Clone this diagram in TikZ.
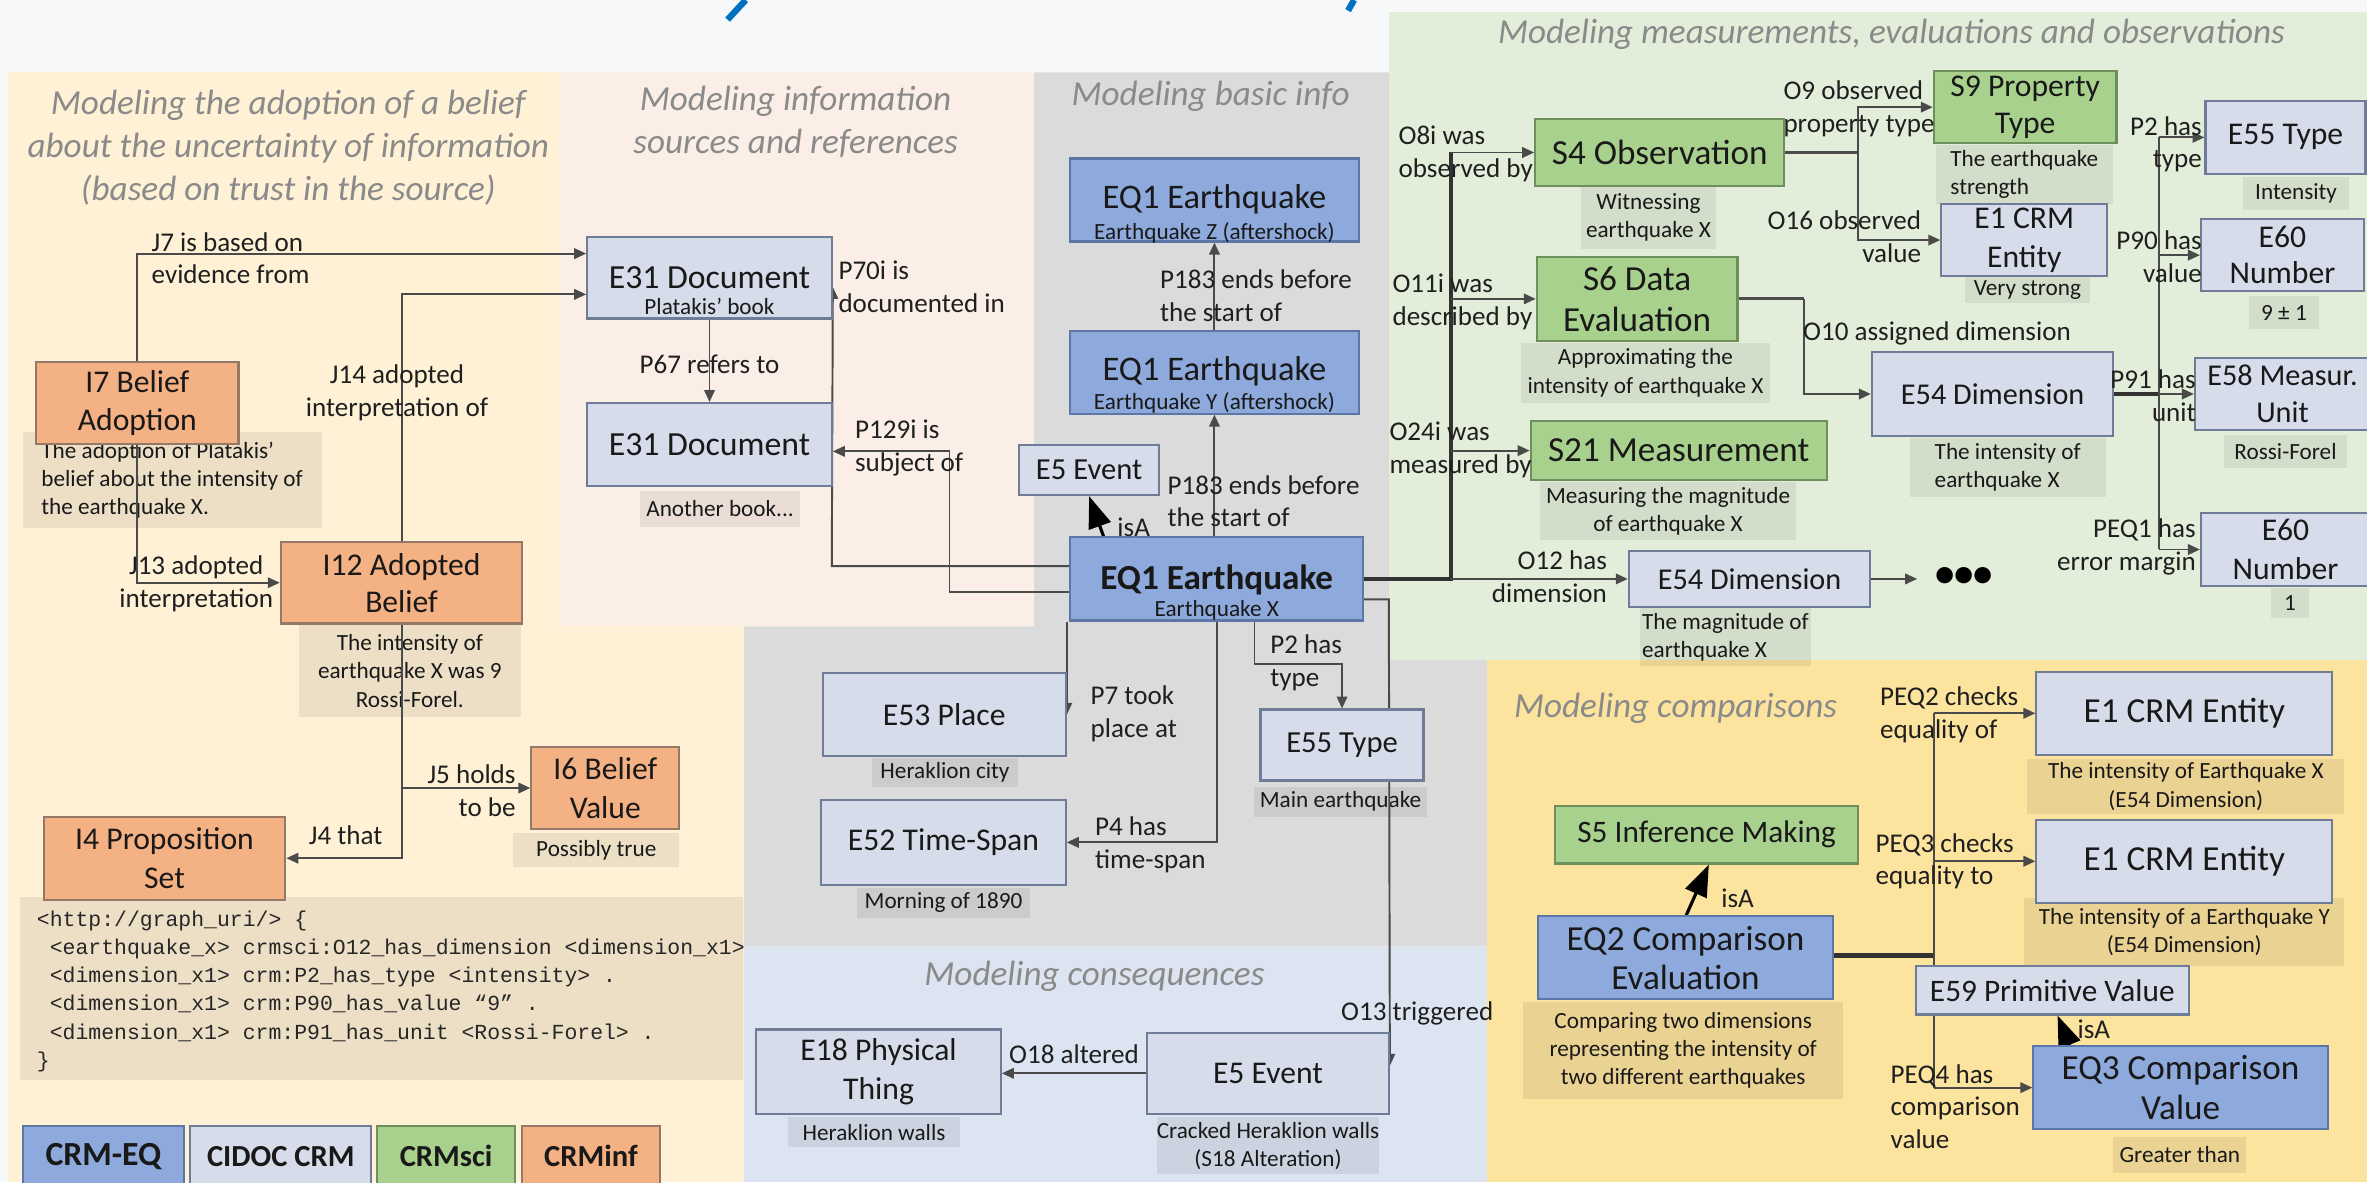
\documentclass[tikz,border=0pt]{standalone}
\usepackage{fontspec}
\setmainfont{Carlito}
\setmonofont{Liberation Mono}
\usetikzlibrary{arrows.meta}
\pgfdeclarelayer{bg}
\pgfdeclarelayer{lines}
\pgfsetlayers{bg,lines,main}
\def\pxu{0.015096cm}
\newcommand\fs[2]{\fontsize{#1}{#2}\selectfont}
\definecolor{pagebg}{HTML}{F7F8FA}
\definecolor{creambg}{HTML}{FEF1D6}
\definecolor{peachbg}{HTML}{FBEEE6}
\definecolor{graybg}{HTML}{DBDBDB}
\definecolor{consbg}{HTML}{DCE4F2}
\definecolor{greenbg}{HTML}{E3EEDA}
\definecolor{compbg}{HTML}{FCE49E}
\definecolor{cidocF}{HTML}{D6DCE9}
\definecolor{cidocD}{HTML}{6F7C98}
\definecolor{eqF}{HTML}{8EA9DB}
\definecolor{eqD}{HTML}{5D76A8}
\definecolor{sciF}{HTML}{A9D18E}
\definecolor{sciD}{HTML}{6E8E5C}
\definecolor{infF}{HTML}{F4B183}
\definecolor{infD}{HTML}{947868}
\definecolor{lineC}{HTML}{4A4A4A}
\definecolor{ttlC}{HTML}{8A8A8A}
\definecolor{titleblue}{HTML}{0070C0}
\begin{document}
\begin{tikzpicture}[x=0.015096cm, y=-0.015096cm,
  wh/.style 2 args={minimum width=#1*\pxu, minimum height=#2*\pxu},
  bx/.style={line width=0.6pt, inner sep=0pt, align=center, text=black!90, font=\fs{9}{11}},
  cidoc/.style={bx, draw=cidocD, fill=cidocF},
  eqb/.style={bx, draw=eqD, fill=eqF},
  sci/.style={bx, draw=sciD, fill=sciF},
  inf/.style={bx, draw=infD, fill=infF},
  desc/.style={fill=black, fill opacity=0.07, text opacity=1, inner sep=0pt, align=center, font=\fs{6.6}{8}, text=black!90},
  sub/.style={inner sep=0pt, font=\fs{6.6}{8}, text=black!90},
  inlbl/.style={inner sep=0pt, font=\fs{9.8}{11}, text=black!90},
  elab/.style={inner sep=0pt, font=\fs{7.7}{9.3}, text=black!88},
  ttl/.style={inner sep=0pt, align=center, font=\itshape\fs{10}{12.2}, text=ttlC},
  conn/.style={draw=lineC, line width=0.55pt, -{Triangle[length=3.4pt,width=3pt]}},
  plain/.style={draw=lineC, line width=0.55pt},
  heavy/.style={draw=black!80, line width=1.2pt},
  medium/.style={draw=black!70, line width=0.9pt},
  isa/.style={draw=black, line width=0.9pt, -{Triangle[length=9pt,width=6.5pt]}},
]
\useasboundingbox (0,0) rectangle (1568,783);

% ---------- panels ----------
\begin{pgfonlayer}{bg}
\fill[pagebg] (0,0) rectangle (1568,783);
\fill[creambg] (5,48) rectangle (493,783);
\fill[peachbg] (370,48) rectangle (685,415);
\fill[graybg] (685,48) -- (920,48) -- (920,437) -- (985,437) -- (985,627) -- (493,627) -- (493,415) -- (685,415) -- cycle;
\fill[consbg] (493,627) rectangle (985,783);
\fill[greenbg] (920,8) rectangle (1568,437);
\fill[compbg] (985,437) rectangle (1568,783);
\draw[titleblue, line width=1.8pt] (494,0) -- (482,13);
\draw[titleblue, line width=1.8pt] (897,0) -- (893,7);

% ---------- descriptions ----------
\node[desc, wh={198}{64}, align=left] (i7d) at (114,318) {The adoption of Platakis'\\belief about the intensity of\\the earthquake X.};
\node[desc, wh={147}{61}] (i12d) at (271.5,444.5) {The intensity of\\earthquake X was 9\\Rossi-Forel.};
\node[desc, wh={110}{23}] (i6d) at (395,563) {Possibly true};
\node[desc, anchor=north west, wh={479}{121}] (code) at (13,594) {};
\node[desc, wh={106}{24}] (e31bd) at (477,337) {Another book...};
\node[desc, wh={97}{19}] (e53d) at (626,511.5) {Heraklion city};
\node[desc, wh={115}{20}] (e55ad) at (888,531) {Main earthquake};
\node[desc, wh={114}{20}] (e52d) at (625,598) {Morning of 1890};
\node[desc, wh={114}{20}] (e18d) at (579,750) {Heraklion walls};
\node[desc, wh={130}{38}] (e5bd) at (840,759) {Cracked Heraklion walls\\(S18 Alteration)};
\node[desc, wh={89}{42}] (s4d) at (1092,144) {Witnessing\\earthquake X};
\node[desc, wh={165}{40}] (s6d) at (1090,247) {Approximating the\\intensity of earthquake X};
\node[desc, wh={170}{39}] (s21d) at (1105,338.5) {Measuring the magnitude\\of earthquake X};
\node[desc, wh={113}{38}, align=left] (e54md) at (1143,422) {The magnitude of\\earthquake X};
\node[desc, wh={117}{39}, align=left] (s9d) at (1341,115.5) {The earthquake\\strength};
\node[desc, wh={83}{18}] (e1vd) at (1343,192) {Very strong};
\node[desc, wh={70}{22}] (e55bd) at (1521,128) {Intensity};
\node[desc, wh={47}{22}] (e60ad) at (1513,207) {9 ± 1};
\node[desc, wh={130}{39}, align=left] (e54id) at (1330,309.5) {The intensity of\\earthquake X};
\node[desc, wh={82}{22}] (e58d) at (1514,299) {Rossi-Forel};
\node[desc, wh={25}{20}] (e60bd) at (1517,399.5) {1};
\node[desc, wh={210}{36}] (e1xd) at (1448,521) {The intensity of Earthquake X\\(E54 Dimension)};
\node[desc, wh={212}{45}] (e1yd) at (1447,617.5) {The intensity of a Earthquake Y\\(E54 Dimension)};
\node[desc, wh={212}{64}] (eq2d) at (1115,696) {Comparing two dimensions\\representing the intensity of\\two different earthquakes};
\node[desc, wh={88}{24}] (eq3d) at (1444,765) {Greater than};
\end{pgfonlayer}

% ---------- section titles ----------
\node[ttl] (t-belief) at (191,98) {Modeling the adoption of a belief\\about the uncertainty of information\\(based on trust in the source)};
\node[ttl] (t-src) at (527,81) {Modeling information\\sources and references};
\node[ttl] (t-basic) at (802,64) {Modeling basic info};
\node[ttl] (t-meas) at (1253,23) {Modeling measurements, evaluations and observations};
\node[ttl] (t-cons) at (725,647) {Modeling consequences};
\node[ttl] (t-cmp) at (1110,469) {Modeling comparisons};

% ---------- belief adoption (CRMinf) ----------
\node[inf, wh={134}{54}] (i7) at (91,267) {I7 Belief\\Adoption};
\node[inf, wh={160}{54}, font=\fs{9}{10.5}] (i12) at (266,386) {I12 Adopted\\Belief};
\node[inf, wh={98}{54}] (i6) at (401,522) {I6 Belief\\Value};
\node[inf, wh={160}{55}] (i4) at (109,568.5) {I4 Proposition\\Set};
\node[inner sep=0pt, anchor=north west, align=left, font=\ttfamily\fs{6.1}{8}, text=black!85] (code-t) at (24,603) {<http://graph\_uri/> \{\\
\hphantom{x}<earthquake\_x> crmsci:O12\_has\_dimension <dimension\_x1>\\
\hphantom{x}<dimension\_x1> crm:P2\_has\_type <intensity> .\\
\hphantom{x}<dimension\_x1> crm:P90\_has\_value “9” .\\
\hphantom{x}<dimension\_x1> crm:P91\_has\_unit <Rossi-Forel> .\\
\}};

% ---------- legend ----------
\node[eqb, wh={107}{40}, font=\bfseries\fs{9.6}{11}] (lg-eq) at (68.5,766) {CRM-EQ};
\node[cidoc, wh={120}{40}, font=\bfseries\fs{8.7}{10}] (lg-cidoc) at (186,766) {CIDOC CRM};
\node[sci, wh={91}{40}, font=\bfseries\fs{8.7}{10}] (lg-sci) at (295.5,766) {CRMsci};
\node[inf, wh={91}{40}, font=\bfseries\fs{8.7}{10}] (lg-inf) at (391.5,766) {CRMinf};

% ---------- information sources ----------
\node[cidoc, wh={162}{54}] (e31a) at (470,184) {};
\node[inlbl, font=\fs{9.6}{11}] (e31a-t) at (470,184) {E31 Document};
\node[sub] (e31a-s) at (470,203) {Platakis’ book};
\node[cidoc, wh={162}{55}, font=\fs{9.6}{11}] (e31b) at (470,294.5) {E31 Document};

% ---------- basic info ----------
\node[eqb, wh={191}{55}] (eqz) at (804.5,132.5) {};
\node[inlbl] (eqz-t) at (804.5,132) {EQ1 Earthquake};
\node[sub] (eqz-s) at (804.5,154) {Earthquake Z (aftershock)};
\node[eqb, wh={191}{55}] (eqy) at (804.5,246.5) {};
\node[inlbl] (eqy-t) at (804.5,246) {EQ1 Earthquake};
\node[sub] (eqy-s) at (804.5,267) {Earthquake Y (aftershock)};
\node[cidoc, wh={93}{33}, font=\fs{8.7}{10}] (e5a) at (721.5,311.5) {E5 Event};
\node[eqb, wh={194}{55}] (eqx) at (806,383.5) {};
\node[inlbl, font=\bfseries\fs{10}{11}] (eqx-t) at (806,384) {EQ1 Earthquake};
\node[sub] (eqx-s) at (806,404) {Earthquake X};
\node[cidoc, wh={161}{55}] (e53) at (625.5,473.5) {E53 Place};
\node[cidoc, wh={108}{47}, font=\fs{8.7}{10}] (e55a) at (889,493.5) {E55 Type};
\node[cidoc, wh={162}{56}] (e52) at (625,558) {E52 Time-Span};

% ---------- consequences ----------
\node[cidoc, wh={162}{56}] (e18) at (582,710) {E18 Physical\\Thing};
\node[cidoc, wh={160}{54}] (e5b) at (840,711) {E5 Event};

% ---------- measurements (CRMsci) ----------
\node[sci, wh={165}{44}, font=\fs{10}{11.5}] (s4) at (1099.5,101) {S4 Observation};
\node[sci, wh={133}{56}, font=\fs{10}{11.6}] (s6) at (1084.5,198) {S6 Data\\Evaluation};
\node[sci, wh={196}{39}, font=\fs{10}{11.5}] (s21) at (1112,298.5) {S21 Measurement};
\node[cidoc, wh={160}{37}, font=\fs{8.6}{10}] (e54m) at (1159,383.5) {E54 Dimension};
\node[inner sep=0pt, font=\bfseries\fs{11}{11}] (more) at (1301,382) {•••};
\node[sci, wh={121}{48}, font=\fs{9}{10.3}] (s9) at (1341.5,71) {S9 Property\\Type};
\node[cidoc, wh={110}{48}] (e1v) at (1341,159) {E1 CRM\\Entity};
\node[cidoc, wh={160}{56}, font=\fs{8.6}{10}] (e54i) at (1320,261) {E54 Dimension};
\node[cidoc, wh={106}{48}] (e55b) at (1514,91) {E55 Type};
\node[cidoc, wh={108}{48}, font=\fs{9}{10.3}] (e60a) at (1512,169) {E60\\Number};
\node[cidoc, wh={116}{48}, font=\fs{8.6}{10.5}] (e58) at (1512,261) {E58 Measur.\\Unit};
\node[cidoc, wh={112}{48}, font=\fs{9}{11}] (e60b) at (1514,364) {E60\\Number};

% ---------- comparisons ----------
\node[cidoc, wh={196}{55}, font=\fs{10}{11}] (e1x) at (1447,472.5) {E1 CRM Entity};
\node[cidoc, wh={196}{55}, font=\fs{10}{11}] (e1y) at (1447,570.5) {E1 CRM Entity};
\node[sci, wh={201}{38}, font=\fs{8.9}{10}] (s5) at (1130.5,553) {S5 Inference Making};
\node[eqb, wh={195}{55}, font=\fs{10}{11.2}] (eq2) at (1116.5,634.5) {EQ2 Comparison\\Evaluation};
\node[cidoc, wh={181}{32}, font=\fs{8.9}{10}] (e59) at (1359.5,656) {E59 Primitive Value};
\node[eqb, wh={195}{55}, font=\fs{10}{11.5}] (eq3) at (1444.5,720.5) {EQ3 Comparison\\Value};

% ---------- junction points ----------
\coordinate (trunk-top) at (961,101);
\coordinate (trunk-bot) at (961,383.5);
\coordinate (obs-split) at (1231,101);
\coordinate (eval-split) at (1195,198);
\coordinate (dim-split) at (1430,261);
\coordinate (cmp-split) at (1281,633);
\coordinate (moretip) at (1270,383.5);
\coordinate (p70-bend) at (551,375);
\coordinate (p129-bend) at (629,392);
\coordinate (o13-bend) at (920,397);

% ---------- connectors ----------
\begin{pgfonlayer}{lines}
\draw[conn] (i7.north) |- (e31a.west |- 0,168);
\draw[conn] (i7.south) |- (i12.west);
\draw[conn] (i12.north) |- (e31a.west |- 0,195);
\draw[conn] (i12.south) |- (i4.east);
\draw[conn] (i12.south |- i6.west) -- (i6.west);
\draw[conn] (e31a) -- (e31b);
\draw[conn] (eqx.west |- p70-bend) -- (p70-bend) -- (e31a.east |- 0,190);
\draw[conn] (eqx.west |- p129-bend) -- (p129-bend) -- (p129-bend |- 0,299) -- (e31b.east |- 0,299);
\draw[conn] (eqy) -- (eqz);
\draw[conn] (eqy.south |- eqx.north) -- (eqy.south);
\draw[isa] (eqx.north -| 731,0) -- (e5a.south);
\draw[conn] (e53.east |- eqx.south) -- (e53.east);
\draw[conn] (eqx.south -| 831,0) |- (e55a.north |- 0,440) -- (e55a.north);
\draw[conn] (eqx.south) |- (e52.east);
\draw[conn] (eqx.east |- o13-bend) -- (o13-bend) -- (e5b.east |- 0,706);
\draw[conn] (e5b.west) -- (e18.east |- e5b.west);
\draw[heavy] (eqx.east) -- (trunk-bot) -- (trunk-top);
\draw[conn] (trunk-top) -- (s4.west);
\draw[conn] (trunk-top |- s6.west) -- (s6.west);
\draw[conn] (trunk-top |- s21.west) -- (s21.west);
\draw[conn] (trunk-bot) -- (e54m.west);
\draw[conn] (e54m.east) -- (moretip);
\draw[medium] (s4.east) -- (obs-split);
\draw[conn] (obs-split) |- (s9.west);
\draw[conn] (obs-split) |- (e1v.west);
\draw[medium] (s6.east) -- (eval-split);
\draw[conn] (eval-split) |- (e54i.west);
\draw[heavy] (e54i.east) -- (dim-split);
\draw[plain] (dim-split |- e55b.west) -- (dim-split |- e60b.west);
\draw[conn] (dim-split |- e55b.west) -- (e55b.west);
\draw[conn] (dim-split |- e60a.west) -- (e60a.west);
\draw[conn] (dim-split) -- (e58.west);
\draw[conn] (dim-split |- e60b.west) -- (e60b.west);
\draw[isa] (eq2.north -| 1117,0) -- (s5.south -| 1132,0);
\draw[heavy] (eq2.east |- cmp-split) -- (cmp-split);
\draw[plain] (cmp-split |- e1x.west) -- (cmp-split |- eq3.west);
\draw[conn] (cmp-split |- e1x.west) -- (e1x.west);
\draw[conn] (cmp-split |- e1y.west) -- (e1y.west);
\draw[conn] (cmp-split |- eq3.west) -- (eq3.west);
\draw[isa] (eq3.north -| 1371,0) -- (e59.south -| 1363,0);
\end{pgfonlayer}

% ---------- connector labels ----------
\node[elab, align=left, anchor=west] (l-j7) at (100,171) {J7 is based on\\evidence from};
\node[elab, align=center] (l-j14) at (263,260) {J14 adopted\\interpretation of};
\node[elab, align=center] (l-j13) at (130,386.5) {J13 adopted\\interpretation};
\node[elab, align=right, anchor=east] (l-j5) at (342,524) {J5 holds\\to be};
\node[elab] (l-j4) at (229,553) {J4 that};
\node[elab] (l-p67) at (470,241) {P67 refers to};
\node[elab, align=left, anchor=west] (l-p70) at (555,190) {P70i is\\documented in};
\node[elab, align=left, anchor=west] (l-p129) at (566,297) {P129i is\\subject of};
\node[elab, align=left, anchor=west] (l-p183a) at (768,196) {P183 ends before\\the start of};
\node[elab, align=left, anchor=west] (l-p183b) at (773,332) {P183 ends before\\the start of};
\node[elab] (l-isa1) at (751,349) {isA};
\node[elab, align=left, anchor=west] (l-p7) at (722,473) {P7 took\\place at};
\node[elab, align=left, anchor=west] (l-p2) at (841,439) {P2 has\\type};
\node[elab, align=left, anchor=west] (l-p4) at (725,559.5) {P4 has\\time-span};
\node[elab, anchor=west] (l-o13) at (888,671) {O13 triggered};
\node[elab, anchor=west] (l-o18) at (668,698) {O18 altered};
\node[elab, align=left, anchor=west] (l-o8) at (926,102) {O8i was\\observed by};
\node[elab, align=left, anchor=west] (l-o11) at (922,200) {O11i was\\described by};
\node[elab, align=left, anchor=west] (l-o24) at (920,298) {O24i was\\measured by};
\node[elab, align=right, anchor=east] (l-o12) at (1065,382) {O12 has\\dimension};
\node[elab, align=left, anchor=west] (l-o9) at (1181,72) {O9 observed\\property type};
\node[elab, align=right, anchor=east] (l-o16) at (1273,157) {O16 observed\\value};
\node[elab, anchor=west] (l-o10) at (1194,221) {O10 assigned dimension};
\node[elab, align=right, anchor=east] (l-p2b) at (1459,95.5) {P2 has\\type};
\node[elab, align=right, anchor=east] (l-p90) at (1459,170) {P90 has\\value};
\node[elab, align=right, anchor=east] (l-p91) at (1455,262) {P91 has\\unit};
\node[elab, align=right, anchor=east] (l-peq1) at (1455,362.5) {PEQ1 has\\error margin};
\node[elab, align=left, anchor=west] (l-peq2) at (1245,473.5) {PEQ2 checks\\equality of};
\node[elab, align=left, anchor=west] (l-peq3) at (1242,570.5) {PEQ3 checks\\equality to};
\node[elab, align=left, anchor=west] (l-peq4) at (1252,733) {PEQ4 has\\comparison\\value};
\node[elab] (l-isa2) at (1151,595) {isA};
\node[elab] (l-isa3) at (1387,682) {isA};
\end{tikzpicture}
\end{document}
